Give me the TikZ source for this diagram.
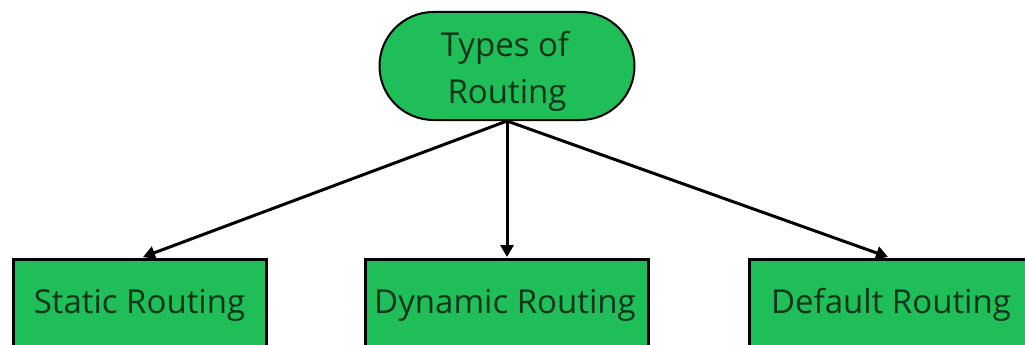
\documentclass[tikz,border=0pt]{standalone}
\usepackage{fontspec}
\setmainfont{Open Sans}
\usetikzlibrary{arrows.meta,shapes.misc}
\definecolor{boxgreen}{RGB}{32,190,88}
\definecolor{labelgreen}{RGB}{12,52,26}
\tikzset{
  pill/.style={rounded rectangle, draw=black, line width=2pt, fill=boxgreen,
    minimum width=255pt, minimum height=108pt, inner sep=0pt},
  leafbox/.style={rectangle, draw=black, line width=3pt, fill=boxgreen,
    minimum height=100pt, inner sep=0pt, anchor=north west},
  caption/.style={text=labelgreen, inner sep=0pt, anchor=base,
    font=\fontsize{33}{40}\selectfont},
  link/.style={draw=black, line width=3pt, -{Triangle[length=12pt,width=13pt]}}
}
\begin{document}
\begin{tikzpicture}[x=1pt,y=-1pt]
  \useasboundingbox (0,0) rectangle (1025,345);
  \fill[white] (0,0) rectangle (1025,345);
  \clip (0,0) rectangle (1025,345);
  % root of the tree
  \node[pill] (root) at (507,66) {};
  \node[caption] (rootA) at (505,57) {Types of};
  \node[caption] (rootB) at (507,103) {Routing};
  % three kinds of routing
  \node[leafbox, minimum width=253pt] (static) at (12,258) {};
  \node[leafbox, minimum width=283pt] (dynamic) at (364,258) {};
  \node[leafbox, minimum width=290pt] (default) at (748,258) {};
  \node[caption] (tstatic) at (139.5,313) {Static Routing};
  \node[caption] (tdynamic) at (505,313) {Dynamic Routing};
  \node[caption] (tdefault) at (891,313) {Default Routing};
  % connectors
  \coordinate (src) at (root.south);
  \coordinate (a1) at (143,257);
  \coordinate (a2) at (507,257);
  \coordinate (a3) at (888,257);
  \draw[link] (src) -- (a1);
  \draw[link] (src) -- (a2);
  \draw[link] (src) -- (a3);
\end{tikzpicture}
\end{document}
